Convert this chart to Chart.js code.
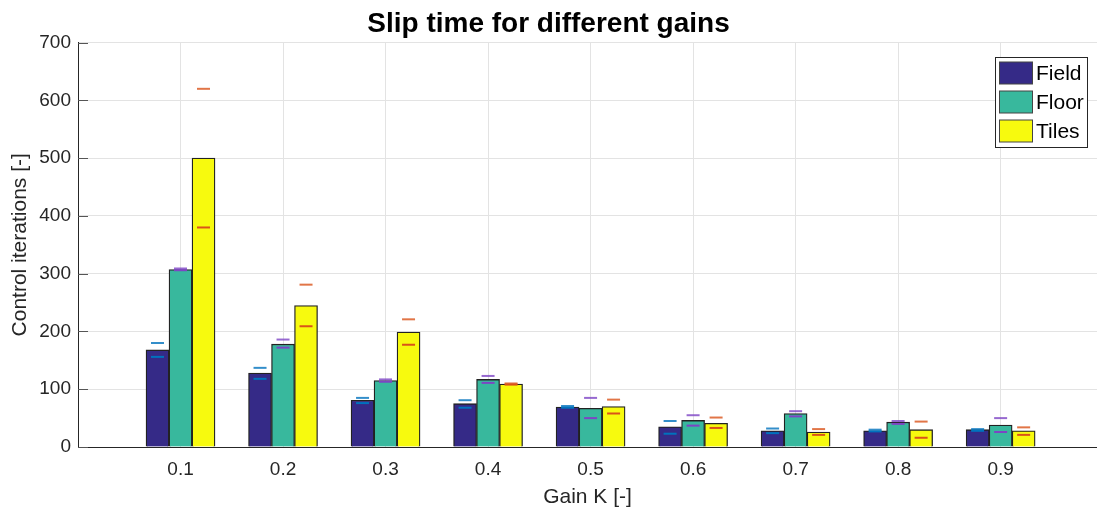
<!DOCTYPE html>
<html>
<head>
<meta charset="utf-8">
<script src="https://cdn.jsdelivr.net/npm/chart.js@4.4.0/dist/chart.umd.min.js"></script>
<style>
  body { margin: 0; background: #fff; }
</style>
</head>
<body>
<canvas id="graficoSlip" width="1097" height="512"></canvas>
<script>
// Datos
const gains = [0.1, 0.2, 0.3, 0.4, 0.5, 0.6, 0.7, 0.8, 0.9];
const seriesNames = ['Field', 'Floor', 'Tiles'];

const field = [168, 128, 81, 75, 69, 35, 28, 28, 30];
const floor = [307, 178, 115, 117, 67, 46, 58, 43, 38];
const tiles = [500, 245, 199, 109, 70, 41, 26, 30, 28];

// marcas de error (arriba / abajo)
const fieldHi = [180, 137, 85, 81, 71, 45, 32, 30, 31];
const fieldLo = [156, 118, 76, 68, 68, 23, 24, 27, 28];
const floorHi = [309, 186, 117, 123, 85, 55, 62, 45, 50];
const floorLo = [306, 172, 113, 111, 50, 37, 53, 40, 26];
const tilesHi = [620, 281, 221, 110, 82, 51, 31, 44, 34];
const tilesLo = [380, 209, 177, 108, 58, 33, 21, 16, 21];

const yTicks = [0, 100, 200, 300, 400, 500, 600, 700];

const barColors = ['#352a87', '#38b89d', '#f7fa0e'];
const errColors = ['#0072bd', '#7d44c4', '#d95319'];
const FONT = '"Liberation Sans", Arial, sans-serif';
const TEXT = '#262626';

const values = [field, floor, tiles];
const highs = [fieldHi, floorHi, tilesHi];
const lows = [fieldLo, floorLo, tilesLo];

// líneas de error + ticks interiores + leyenda
const extras = {
    id: 'extras',
    beforeDatasetsDraw(chart) {
        const ctx = chart.ctx;
        const y = chart.scales.y;
        const left = chart.chartArea.left;
        ctx.save();
        ctx.strokeStyle = '#555';
        ctx.lineWidth = 1;
        yTicks.forEach(t => {
            const py = Math.round(y.getPixelForValue(t)) + 0.5;
            ctx.beginPath();
            ctx.moveTo(left, py);
            ctx.lineTo(left + 10, py);
            ctx.stroke();
        });
        ctx.restore();
    },
    afterDatasetsDraw(chart) {
        const ctx = chart.ctx;
        const y = chart.scales.y;
        ctx.save();
        ctx.lineWidth = 2;
        values.forEach((vals, d) => {
            const meta = chart.getDatasetMeta(d);
            ctx.strokeStyle = errColors[d];
            meta.data.forEach((bar, i) => {
                [highs[d][i], lows[d][i]].forEach((v, k) => {
                    const py = y.getPixelForValue(v);
                    ctx.globalAlpha = k === 0 ? 0.8 : 1;
                    ctx.beginPath();
                    ctx.moveTo(bar.x - 6.5, py);
                    ctx.lineTo(bar.x + 6.5, py);
                    ctx.stroke();
                });
            });
        });
        ctx.restore();

        // leyenda
        ctx.save();
        ctx.fillStyle = '#fff';
        ctx.strokeStyle = TEXT;
        ctx.lineWidth = 1;
        ctx.fillRect(995.5, 57.5, 92, 90);
        ctx.strokeRect(995.5, 57.5, 92, 90);
        ctx.font = '21px ' + FONT;
        ctx.textBaseline = 'middle';
        seriesNames.forEach((name, i) => {
            const cy = 73 + i * 29;
            ctx.fillStyle = barColors[i];
            ctx.fillRect(999.5, cy - 11, 33, 22);
            ctx.strokeStyle = '#444';
            ctx.strokeRect(999.5, cy - 11, 33, 22);
            ctx.fillStyle = '#000';
            ctx.fillText(name, 1036, cy + 1);
        });
        ctx.restore();
    }
};

const ctx = document.getElementById('graficoSlip').getContext('2d');
new Chart(ctx, {
    type: 'bar',
    data: {
        datasets: seriesNames.map((name, d) => ({
            label: name,
            data: gains.map((g, i) => ({ x: g, y: values[d][i] })),
            backgroundColor: barColors[d],
            borderColor: '#222',
            borderWidth: 1.3,
            barThickness: 23
        }))
    },
    options: {
        responsive: false,
        animation: false,
        layout: { padding: 0 },
        plugins: {
            legend: { display: false },
            tooltip: { enabled: false },
            title: {
                display: true,
                text: 'Slip time for different gains',
                color: '#000',
                font: { family: FONT, size: 28, weight: 'bold' },
                padding: { top: 7, bottom: 2 }
            }
        },
        scales: {
            x: {
                type: 'linear',
                min: 0,
                max: 0.994,
                offset: false,
                grid: { offset: false, color: '#e3e3e3', drawTicks: false },
                border: { color: TEXT, width: 1 },
                ticks: {
                    stepSize: 0.1,
                    includeBounds: false,
                    padding: 11,
                    color: TEXT,
                    font: { family: FONT, size: 19 },
                    callback: v => (v < 0.05 ? '' : v.toFixed(1))
                },
                title: {
                    display: true,
                    text: 'Gain K [-]',
                    color: TEXT,
                    font: { family: FONT, size: 21 },
                    padding: { top: 0, bottom: 2 }
                },
                afterFit: s => { s.height = 65; }
            },
            y: {
                min: 0,
                max: 700,
                grid: { color: '#e3e3e3', drawTicks: false },
                border: { color: TEXT, width: 1 },
                ticks: {
                    stepSize: 100,
                    padding: 7,
                    color: TEXT,
                    font: { family: FONT, size: 19 }
                },
                title: {
                    display: true,
                    text: 'Control iterations [-]',
                    color: TEXT,
                    font: { family: FONT, size: 21 },
                    padding: { top: 8, bottom: 0 }
                },
                afterFit: s => { s.width = 78; }
            }
        }
    },
    plugins: [extras]
});
</script>
</body>
</html>
